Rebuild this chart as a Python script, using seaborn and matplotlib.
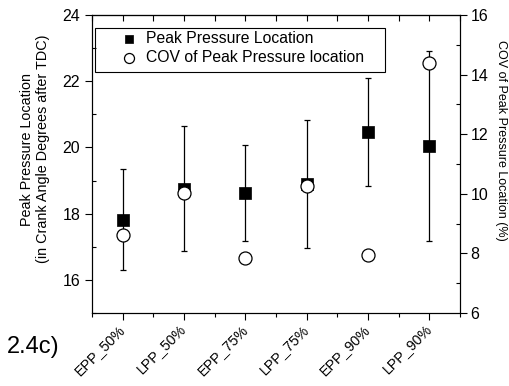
import numpy as np
import pandas as pd
import matplotlib
matplotlib.use('Agg')
import matplotlib.pyplot as plt
from matplotlib.patches import Rectangle
from matplotlib.ticker import MultipleLocator, FixedLocator
import seaborn as sns

sns.set_style('ticks')
plt.rcParams['font.family'] = ['Liberation Sans', 'DejaVu Sans']
plt.rcParams.update({'text.color': 'black', 'axes.labelcolor': 'black',
                     'xtick.color': 'black', 'ytick.color': 'black'})

# values
cases = ['EPP_50%', 'LPP_50%', 'EPP_75%', 'LPP_75%', 'EPP_90%', 'LPP_90%']
peak_loc = [17.82, 18.76, 18.62, 18.89, 20.47, 20.05]
peak_err = [1.53, 1.89, 1.46, 1.94, 1.63, 2.87]
cov_loc = [8.63, 10.02, 7.85, 10.26, 7.95, 14.39]

df = pd.DataFrame({'case': cases, 'pos': np.arange(len(cases)),
                   'peak': peak_loc, 'err': peak_err, 'cov': cov_loc})

fig = plt.figure(figsize=(5.09, 3.86), dpi=100)
ax = fig.add_axes([92/509, 1-313/386, 368/509, 298/386])

ax.errorbar(df['pos'], df['peak'], yerr=df['err'], fmt='none', ecolor='black',
            elinewidth=0.9, capsize=2, capthick=0.9, zorder=2)
sns.scatterplot(data=df, x='pos', y='peak', marker='s', s=75, color='black',
                edgecolor='black', linewidth=0.5, ax=ax, zorder=3,
                label='Peak Pressure Location', legend=False)

ax2 = ax.twinx()
sns.scatterplot(data=df, x='pos', y='cov', marker='o', s=88, color='white',
                edgecolor='black', linewidth=0.9, ax=ax2, zorder=4,
                label='COV of Peak Pressure location', legend=False)

ax.set_xlim(-0.5, 5.5)
ax.set_ylim(15, 24)
ax2.set_ylim(6, 16)

ax.set_xticks(df['pos'])
ax.set_xticklabels(cases, rotation=45, ha='right', va='center',
                   rotation_mode='anchor', fontsize=10.3)
ax.xaxis.set_minor_locator(FixedLocator(np.arange(-0.5, 6, 1)))
ax.set_yticks([16, 18, 20, 22, 24])
ax.yaxis.set_minor_locator(MultipleLocator(1))
ax2.set_yticks([6, 8, 10, 12, 14, 16])
ax2.yaxis.set_minor_locator(MultipleLocator(1))

ax.tick_params(axis='x', which='major', direction='out', length=5, width=0.8,
               top=False, pad=5)
ax.tick_params(axis='x', which='minor', direction='out', length=3, width=0.8, top=False)
ax.tick_params(axis='y', which='major', direction='out', length=5, width=0.8,
               labelsize=11.5, right=False)
ax.tick_params(axis='y', which='minor', direction='in', length=3, width=0.8, right=False)
ax2.tick_params(axis='y', which='major', direction='out', length=5, width=0.8,
                labelsize=11.5, pad=2.5)
ax2.tick_params(axis='y', which='minor', direction='in', length=3, width=0.8)

top = ax.secondary_xaxis('top')
top.set_xticks(df['pos'])
top.xaxis.set_minor_locator(FixedLocator(np.arange(-0.5, 6, 1)))
top.tick_params(which='both', direction='in', length=4, width=0.8, labeltop=False)

for a in (ax, ax2, top):
    for sp in a.spines.values():
        sp.set_linewidth(0.8)
        sp.set_color('black')

ax.set_xlabel('')
ax2.set_xlabel('')
ax.set_ylabel('Peak Pressure Location\n(in Crank Angle Degrees after TDC)',
              fontsize=10.4, va='center', ha='center')
ax.yaxis.set_label_coords(-0.155, 0.55)
ax2.set_ylabel('COV of Peak Pressure Location (%)', rotation=270,
               fontsize=9, va='center', ha='center')
ax2.yaxis.set_label_coords(1.112, 0.58)

h1, l1 = ax.get_legend_handles_labels()
h2, l2 = ax2.get_legend_handles_labels()
leg = ax2.legend(h1 + h2, l1 + l2, loc='upper left', bbox_to_anchor=(0.079, 0.945),
                 frameon=False, fontsize=11.3, handlelength=1.0, handletextpad=0.6,
                 labelspacing=0.25, borderaxespad=0, borderpad=0)
leg.legend_handles[0].set_sizes([33])
leg.legend_handles[1].set_sizes([52])
ax2.add_patch(Rectangle((0.008, 0.809), 0.788, 0.148, transform=ax2.transAxes,
                        fill=False, edgecolor='black', linewidth=0.8, zorder=5))

fig.text(7/509, 0.101, '2.4c)', fontsize=17, va='center')

fig.savefig('out.png', dpi=100)
